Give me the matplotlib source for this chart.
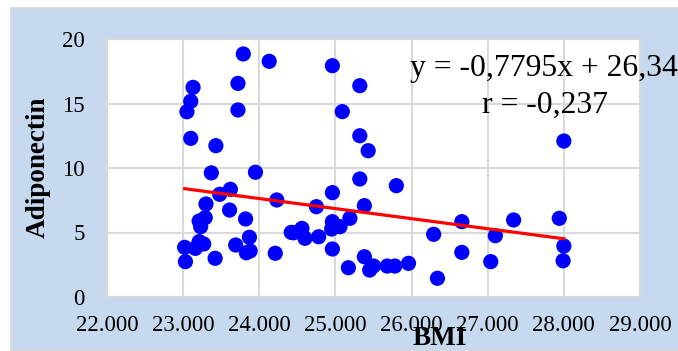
import matplotlib
matplotlib.use("Agg")
import numpy as np
import matplotlib.pyplot as plt
from matplotlib.patches import Rectangle

# BMI vs adiponectin
bmi = [23.79, 24.13, 23.13, 23.72, 23.10, 23.05, 23.72, 23.10, 23.43, 23.37,
       23.95, 23.62, 23.48, 24.23, 23.30, 23.61, 23.82, 23.29, 23.21, 23.23,
       24.42, 23.87, 23.02, 23.21, 23.27, 23.16, 23.69, 23.83, 23.88, 24.21,
       23.42, 23.03,
       24.96, 25.32, 25.09, 25.32, 25.43, 25.32, 25.80, 24.96, 24.75, 25.38,
       24.96, 25.19, 25.06, 24.95, 24.56, 24.45, 24.60, 24.78, 24.96, 25.38,
       25.17, 25.45, 25.50, 25.68, 25.78, 25.96,
       26.29, 26.34, 26.66, 26.66, 27.04, 27.10, 27.34, 27.94, 28.00, 27.99,
       28.00]
adiponectin = [18.84, 18.27, 16.25, 16.56, 15.17, 14.36, 14.50, 12.30, 11.73, 9.62,
               9.67, 8.35, 7.96, 7.52, 7.21, 6.74, 6.05, 6.15, 5.89, 5.45,
               5.01, 4.63, 3.85, 4.29, 4.11, 3.77, 4.03, 3.43, 3.57, 3.39,
               3.00, 2.74,
               17.93, 16.38, 14.37, 12.50, 11.34, 9.15, 8.63, 8.09, 7.00, 7.08,
               5.84, 6.10, 5.45, 5.27, 5.32, 4.98, 4.55, 4.67, 3.72, 3.12,
               2.27, 2.09, 2.40, 2.40, 2.40, 2.61,
               4.86, 1.45, 5.84, 3.46, 2.74, 4.75, 5.97, 6.10, 3.95, 2.81,
               12.09]

slope, intercept = -0.7795, 26.34
r_value = -0.237

x_ticks = [22, 23, 24, 25, 26, 27, 28, 29]
y_ticks = [0, 5, 10, 15, 20]

serif = "Liberation Serif"
grid_c = "#d9d9d9"

fig = plt.figure(figsize=(6.78, 3.51), dpi=100)
fig.patch.set_facecolor("white")
fig.patches.append(Rectangle((11 / 678, 0), 1, 1 - 8 / 351, transform=fig.transFigure,
                             facecolor="#c6d9ef", edgecolor=grid_c, lw=1.2, zorder=-5))

ax = fig.add_axes([107 / 678, 1 - 297 / 351, 533 / 678, 258 / 351])
ax.set_facecolor("white")
ax.set_xlim(22, 29)
ax.set_ylim(0, 20)
ax.set_xticks(x_ticks)
ax.set_yticks(y_ticks)
ax.set_xticklabels([f"{t:.3f}" for t in x_ticks], fontfamily=serif, fontsize=16.5)
ax.set_yticklabels([str(t) for t in y_ticks], fontfamily=serif, fontsize=16.5)
ax.tick_params(axis="x", length=0, pad=13)
ax.tick_params(axis="y", length=0, pad=16)
ax.grid(True, color=grid_c, lw=1.5, zorder=0)
ax.set_axisbelow(True)
for s in ax.spines.values():
    s.set_color(grid_c)
    s.set_linewidth(1.5)

ax.scatter(bmi, adiponectin, s=120, color="#0000ff", edgecolors="none", zorder=2, clip_on=False)

xs = np.array([min(bmi), max(bmi)])
ax.plot(xs, slope * xs + intercept, color="#ff0000", lw=2.3, zorder=3)

fig.text(410 / 678, 1 - 76 / 351, "y = -0,7795x + 26,34", fontfamily=serif, fontsize=22.8,
         ha="left", va="baseline")
fig.text(482 / 678, 1 - 113 / 351, "r = " + f"{r_value:.3f}".replace(".", ","),
         fontfamily=serif, fontsize=22.8, ha="left", va="baseline")

fig.text(38 / 678, 1 - 167 / 351, "Adiponectin", fontfamily=serif, fontweight="bold",
         fontsize=19.5, rotation=90, ha="center", va="center")
fig.text(440 / 678, 1 - 345 / 351, "BMI", fontfamily=serif, fontweight="bold",
         fontsize=19.5, ha="center", va="baseline")

fig.savefig("out.png", dpi=100)
